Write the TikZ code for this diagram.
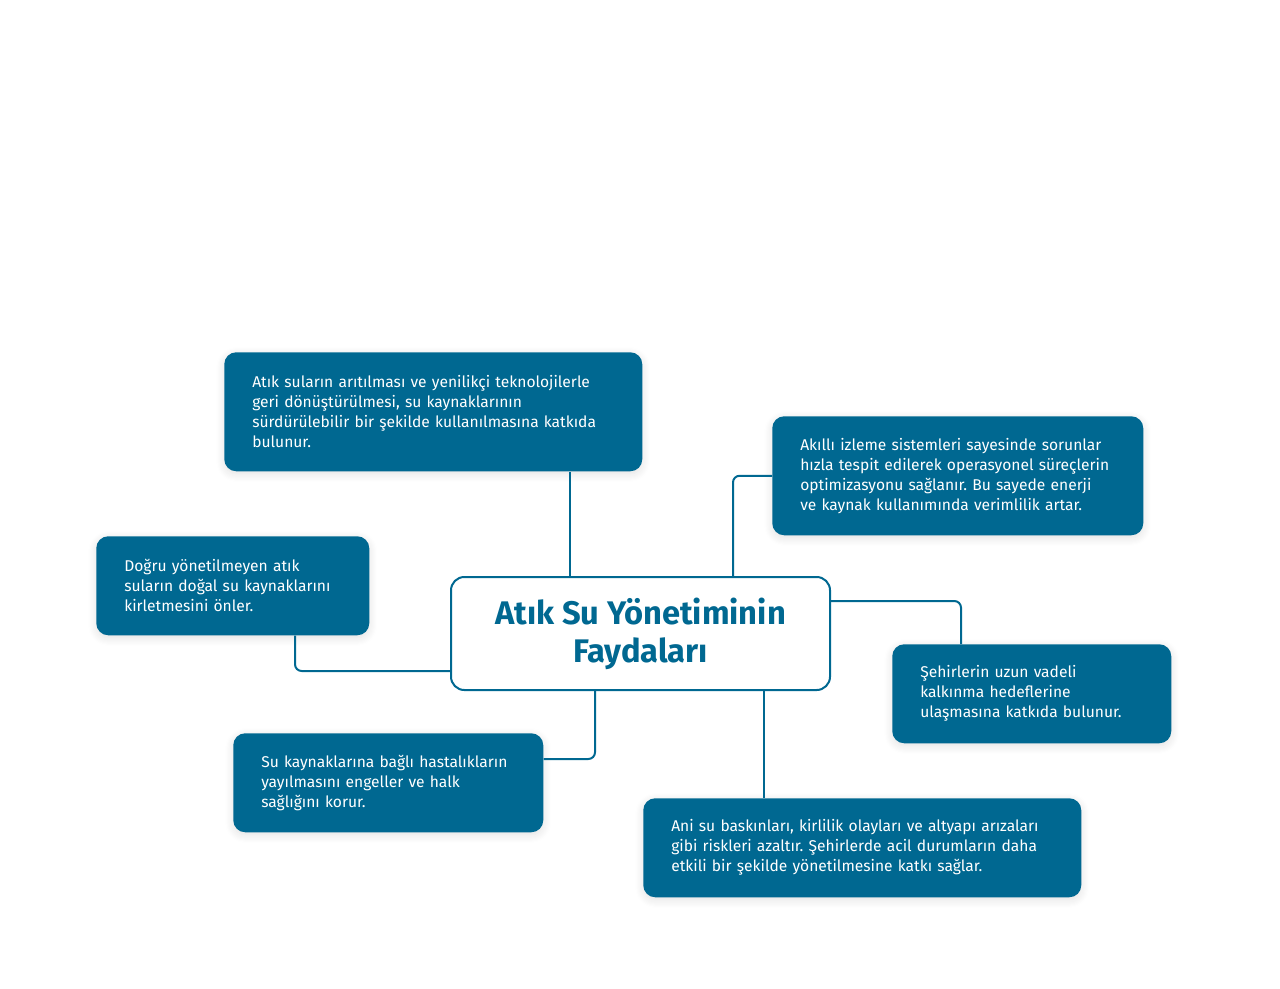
\documentclass[tikz,border=0pt]{standalone}
\usepackage{fontspec}
\setmainfont{Fira Sans}
\frenchspacing
\usetikzlibrary{shadows.blur}
\definecolor{wblue}{RGB}{0,104,145}
\tikzset{
  infobox/.style={draw=none, fill=wblue, text=white, rounded corners=9pt, anchor=north west,
    align=left, inner xsep=21pt, inner ysep=0pt,
    font=\fontsize{11.7}{15}\selectfont,
    blur shadow={shadow xshift=0pt, shadow yshift=-2pt, shadow blur steps=8, shadow opacity=12, shadow blur radius=6pt}},
  hub/.style={draw=wblue, line width=1.5pt, fill=white, rounded corners=10pt, anchor=north west,
    align=center, text=wblue, font=\fontsize{24.5}{28.5}\selectfont\bfseries,
    minimum width=284.25pt, minimum height=84.75pt, inner sep=0pt},
  conn/.style={draw=wblue, line width=1.5pt, rounded corners=5pt}
}
\begin{document}
\begin{tikzpicture}[x=0.75pt,y=-0.75pt]
\useasboundingbox (0,0) rectangle (1280,988);
\node[hub] (c) at (450,576) {Atık Su Yönetiminin\\Faydaları};
\node[infobox, minimum width=313.5pt, minimum height=89.25pt, text width=271.5pt] (b1) at (224,352)
 {Atık suların arıtılması ve yenilikçi teknolojilerle\\geri dönüştürülmesi, su kaynaklarının\\sürdürülebilir bir şekilde kullanılmasına katkıda\\bulunur.};
\node[infobox, minimum width=278.25pt, minimum height=89.25pt, text width=236.25pt] (b2) at (772,416)
 {Akıllı izleme sistemleri sayesinde sorunlar\\hızla tespit edilerek operasyonel süreçlerin\\optimizasyonu sağlanır. Bu sayede enerji\\ve kaynak kullanımında verimlilik artar.};
\node[infobox, minimum width=204.75pt, minimum height=74.25pt, text width=162.75pt] (b3) at (96,536)
 {Doğru yönetilmeyen atık\\suların doğal su kaynaklarını\\kirletmesini önler.};
\node[infobox, minimum width=209.25pt, minimum height=74.25pt, text width=167.25pt] (b4) at (892,644)
 {Şehirlerin uzun vadeli\\kalkınma hedeflerine\\ulaşmasına katkıda bulunur.};
\node[infobox, minimum width=232.5pt, minimum height=74.25pt, text width=190.5pt] (b5) at (233,733)
 {Su kaynaklarına bağlı hastalıkların\\yayılmasını engeller ve halk\\sağlığını korur.};
\node[infobox, minimum width=328.5pt, minimum height=74.25pt, text width=286.5pt] (b6) at (643,798)
 {Ani su baskınları, kirlilik olayları ve altyapı arızaları\\gibi riskleri azaltır. Şehirlerde acil durumların daha\\etkili bir şekilde yönetilmesine katkı sağlar.};
\draw[conn] ([xshift=90pt]c.north west) -- ([xshift=90pt]c.north west |- b1.south);
\draw[conn] ([xshift=212.25pt]c.north west) |- (b2.west);
\draw[conn] ([yshift=15pt]c.south west) -| ([xshift=149.25pt]b3.south west);
\draw[conn] ([yshift=-18.75pt]c.north east) -| ([xshift=51.75pt]b4.north west);
\draw[conn] ([xshift=108.75pt]c.south west) |- ([yshift=-19.5pt]b5.north east);
\draw[conn] ([xshift=235.5pt]c.south west) -- ([xshift=235.5pt]c.south west |- b6.north);
\end{tikzpicture}
\end{document}
